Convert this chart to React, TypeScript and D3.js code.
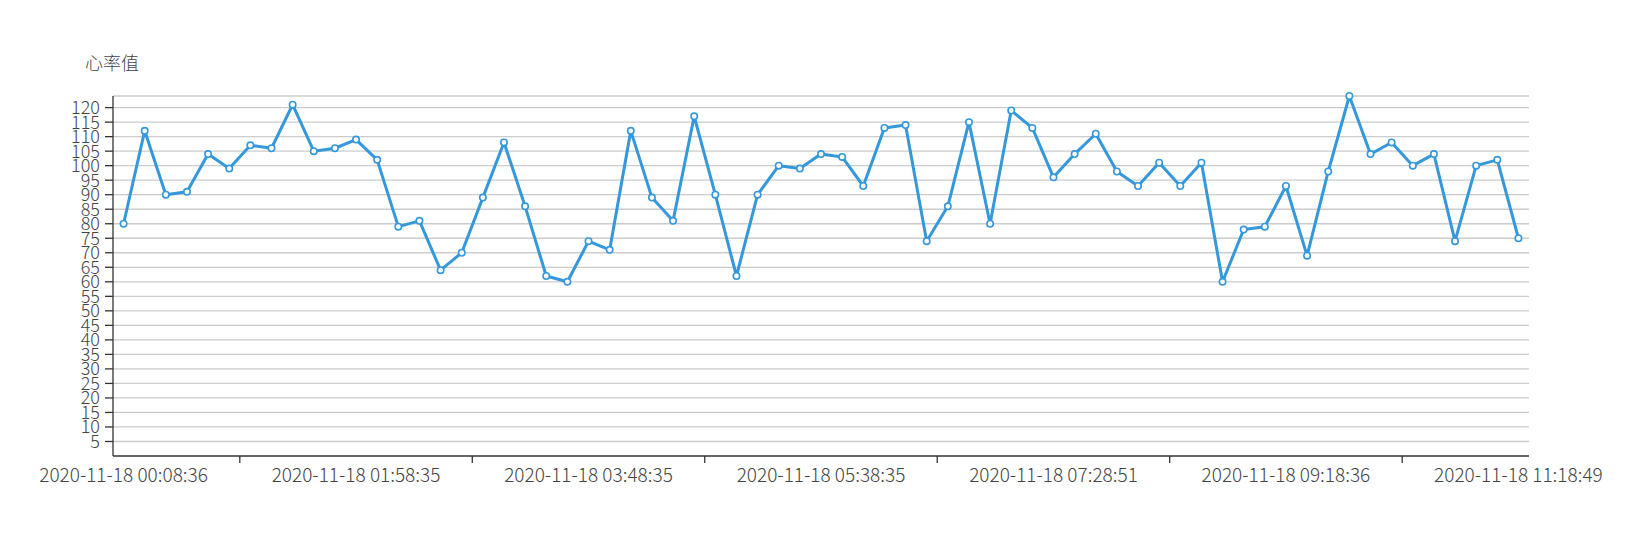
import React from 'react';
import * as d3 from 'd3';

// heart rate samples, one per category
const heartRate = [
  80, 112, 90, 91, 104, 99, 107, 106, 121, 105,
  106, 109, 102, 79, 81, 64, 70, 89, 108, 86,
  62, 60, 74, 71, 112, 89, 81, 117, 90, 62,
  90, 100, 99, 104, 103, 93, 113, 114, 74, 86,
  115, 80, 119, 113, 96, 104, 111, 98, 93, 101,
  93, 101, 60, 78, 79, 93, 69, 98, 124, 104,
  108, 100, 104, 74, 100, 102, 75
];

// labels shown every 11th category
const timeLabels = [
  '2020-11-18 00:08:36',
  '2020-11-18 01:58:35',
  '2020-11-18 03:48:35',
  '2020-11-18 05:38:35',
  '2020-11-18 07:28:51',
  '2020-11-18 09:18:36',
  '2020-11-18 11:18:49'
];
const labelInterval = 11;

const yTicks = [5, 10, 15, 20, 25, 30, 35, 40, 45, 50, 55, 60, 65, 70, 75, 80, 85, 90, 95, 100, 105, 110, 115, 120];
const yMax = 124;
const yName = '心率值';

const W = 1637;
const H = 560;
const margin = { left: 113, right: 1529, top: 96, bottom: 456 };
const blue = '#3498db';
const font = '"Noto Sans CJK SC", "Noto Sans", sans-serif';
const textColor = '#444';

const App: React.FC = () => {
  const idx = heartRate.map((_, i) => i);
  const x = d3.scaleBand<number>().domain(idx).range([margin.left, margin.right]).padding(0);
  const y = d3.scaleLinear().domain([0, yMax]).range([margin.bottom, margin.top]);
  const cx = (i: number) => (x(i) as number) + x.bandwidth() / 2;

  const line = d3.line<number>()
    .x((_, i) => cx(i))
    .y((d) => y(d));

  // tick marks sit on band boundaries between labels (echarts style)
  const tickIdx = idx.filter((i) => i % labelInterval === Math.floor(labelInterval / 2) + 1);

  return (
    <svg width={W} height={H} style={{ position: 'absolute', left: 0, top: 0 }} fontFamily={font}>
      <text x={85} y={70} fontSize={18} fill={textColor} fontWeight={300}>{yName}</text>

      {/* grid */}
      {[...yTicks, yMax].map((t) => (
        <line key={'g' + t} x1={margin.left} x2={margin.right} y1={y(t)} y2={y(t)}
          stroke="#ccc" strokeWidth={1.3} />
      ))}

      {/* y axis */}
      <line x1={margin.left} x2={margin.left} y1={margin.top} y2={margin.bottom} stroke="#333" strokeWidth={1.3} />
      {yTicks.map((t) => (
        <g key={'y' + t}>
          <line x1={margin.left - 8} x2={margin.left} y1={y(t)} y2={y(t)} stroke="#333" strokeWidth={1.3} />
          <text x={margin.left - 13} y={y(t)} dy="0.36em" textAnchor="end" fontSize={18} fontWeight={300} fill={textColor}>{t}</text>
        </g>
      ))}

      {/* x axis */}
      <line x1={margin.left} x2={margin.right} y1={margin.bottom} y2={margin.bottom} stroke="#333" strokeWidth={1.3} />
      {tickIdx.map((i) => (
        <line key={'xt' + i} x1={x(i) as number} x2={x(i) as number} y1={margin.bottom} y2={margin.bottom + 7}
          stroke="#333" strokeWidth={1.3} />
      ))}
      {timeLabels.map((lab, k) => (
        <text key={'xl' + k} x={cx(k * labelInterval)} y={482} textAnchor="middle" fontSize={19} fontWeight={300} fill={textColor}>{lab}</text>
      ))}

      {/* series */}
      <path d={line(heartRate) || ''} fill="none" stroke={blue} strokeWidth={3} strokeLinejoin="round" />
      {heartRate.map((v, i) => (
        <circle key={'p' + i} cx={cx(i)} cy={y(v)} r={3.2} fill="#fff" stroke={blue} strokeWidth={1.6} />
      ))}
    </svg>
  );
};

export default App;
